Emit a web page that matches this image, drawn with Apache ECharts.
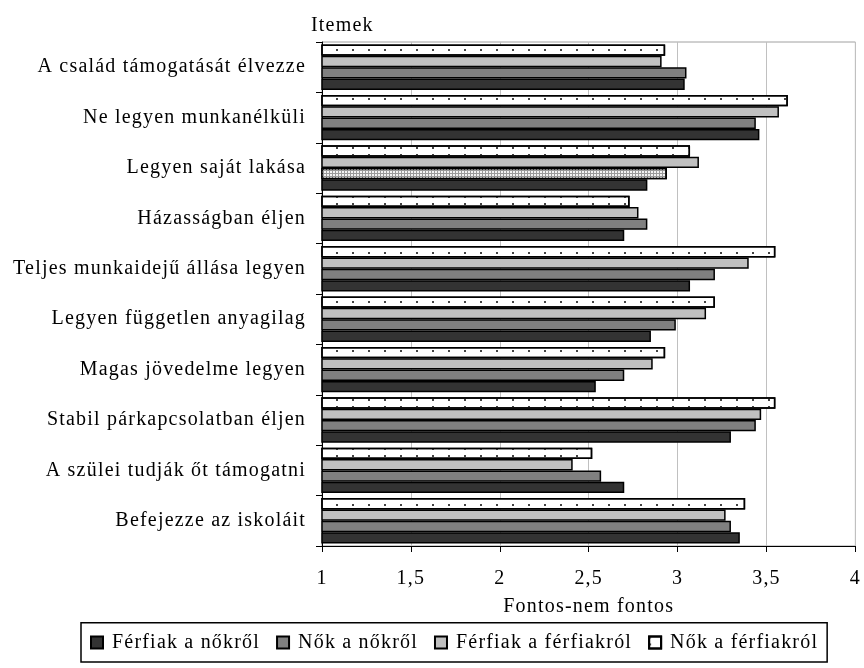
<!DOCTYPE html>
<html>
<head>
<meta charset="utf-8">
<script src="https://cdn.jsdelivr.net/npm/echarts@6/dist/echarts.min.js"></script>
<style>
  html, body { margin: 0; padding: 0; background: #fff; }
  #chart { width: 864px; height: 668px; }
</style>
</head>
<body>
<div id="chart"></div>
<script>
// items, top to bottom
const categories = [
  'A család támogatását élvezze',
  'Ne legyen munkanélküli',
  'Legyen saját lakása',
  'Házasságban éljen',
  'Teljes munkaidejű állása legyen',
  'Legyen független anyagilag',
  'Magas jövedelme legyen',
  'Stabil párkapcsolatban éljen',
  'A szülei tudják őt támogatni',
  'Befejezze az iskoláit'
]

const ferfiakNokrol = [3.04, 3.46, 2.83, 2.70, 3.07, 2.85, 2.54, 3.30, 2.70, 3.35]
const nokNokrol = [3.05, 3.44, 2.94, 2.83, 3.21, 2.99, 2.70, 3.44, 2.57, 3.30]
const ferfiakFerfiakrol = [2.91, 3.57, 3.12, 2.78, 3.40, 3.16, 2.86, 3.47, 2.41, 3.27]
const nokFerfiakrol = [2.93, 3.62, 3.07, 2.73, 3.55, 3.21, 2.93, 3.55, 2.52, 3.38]

const xTicks = ['1', '1,5', '2', '2,5', '3', '3,5', '4']
const legendNames = ['Férfiak a nőkről', 'Nők a nőkről', 'Férfiak a férfiakról', 'Nők a férfiakról']

// this one bar is drawn with a different fill in the original
const oddBarIndex = 2

const font = 'Liberation Serif, Times New Roman, serif'

// the original text is slightly letter-spaced; echarts has no option for it,
// so set it on the canvas context for drawing and measuring alike
const ctxProto = CanvasRenderingContext2D.prototype
const origFillText = ctxProto.fillText
const origMeasureText = ctxProto.measureText
ctxProto.fillText = function (...args) {
  this.letterSpacing = '1.2px'
  return origFillText.apply(this, args)
}
ctxProto.measureText = function (...args) {
  this.letterSpacing = '1.2px'
  return origMeasureText.apply(this, args)
}

const chart = echarts.init(document.getElementById('chart'))

const dotDecal = {
  symbol: 'rect',
  symbolSize: 1,
  color: '#444',
  dashArrayX: [1.5, 13.5],
  dashArrayY: [1.5, 4.5]
}

const border = { borderColor: '#000', borderWidth: 1.5 }

chart.setOption({
  animation: false,
  title: {
    text: 'Itemek',
    left: 306,
    top: 10,
    textStyle: { fontFamily: font, fontSize: 20, fontWeight: 'normal', color: '#000' }
  },
  grid: {
    left: 322,
    right: 7,
    top: 42,
    bottom: 122,
    show: true,
    borderColor: '#a0a0a0',
    borderWidth: 1
  },
  legend: {
    bottom: 6,
    left: 81,
    data: legendNames,
    itemWidth: 12,
    itemHeight: 12,
    itemGap: 16,
    padding: [9, 9],
    borderColor: '#000',
    borderWidth: 1.5,
    icon: 'rect',
    textStyle: { fontFamily: font, fontSize: 20, color: '#000', padding: [0, 0, 0, 4] }
  },
  xAxis: {
    type: 'value',
    min: 1,
    max: 4,
    interval: 0.5,
    name: 'Fontos-nem fontos',
    nameLocation: 'middle',
    nameGap: 50,
    nameTextStyle: { fontFamily: font, fontSize: 20, color: '#000' },
    axisLine: { show: true, lineStyle: { color: '#000', width: 1 } },
    axisTick: { show: true, length: 6, lineStyle: { color: '#000' } },
    axisLabel: {
      fontFamily: font,
      fontSize: 20,
      color: '#000',
      margin: 22,
      formatter: (v) => xTicks[Math.round((v - 1) * 2)]
    },
    splitLine: { show: true, lineStyle: { color: '#c0c0c0', width: 1 } }
  },
  yAxis: {
    type: 'category',
    inverse: true,
    data: categories,
    axisLine: { show: true, lineStyle: { color: '#000', width: 1 } },
    axisTick: { show: true, length: 6, lineStyle: { color: '#000' } },
    axisLabel: { fontFamily: font, fontSize: 20, color: '#000', margin: 16 }
  },
  series: [
    {
      name: 'Nők a férfiakról',
      type: 'bar',
      barGap: '0%',
      barCategoryGap: '10%',
      data: nokFerfiakrol,
      itemStyle: Object.assign({ color: '#fff', decal: dotDecal }, border)
    },
    {
      name: 'Férfiak a férfiakról',
      type: 'bar',
      data: ferfiakFerfiakrol,
      itemStyle: Object.assign({ color: '#c0c0c0' }, border)
    },
    {
      name: 'Nők a nőkről',
      type: 'bar',
      data: nokNokrol.map((v, i) => i === oddBarIndex
        ? {
            value: v,
            itemStyle: {
              color: '#9a9a9a',
              decal: {
                symbol: 'rect',
                symbolSize: 1,
                color: '#f2f2f2',
                dashArrayX: [2, 1],
                dashArrayY: [2, 1]
              }
            }
          }
        : v),
      itemStyle: Object.assign({ color: '#808080' }, border)
    },
    {
      name: 'Férfiak a nőkről',
      type: 'bar',
      data: ferfiakNokrol,
      itemStyle: Object.assign({ color: '#333333' }, border)
    }
  ]
})
</script>
</body>
</html>
